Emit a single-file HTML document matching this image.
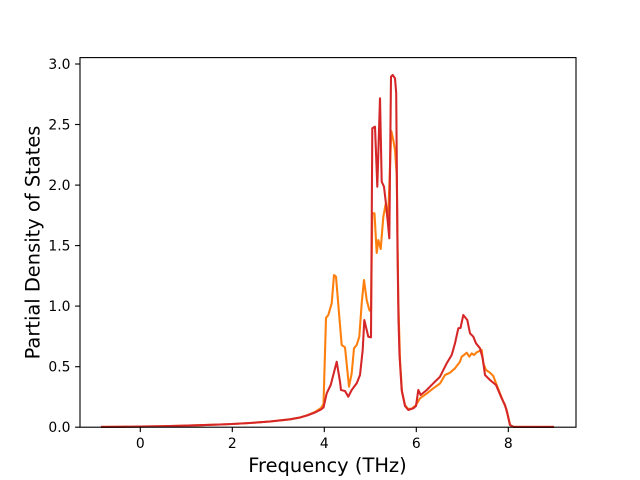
<!DOCTYPE html>
<html>
<head>
<meta charset="utf-8">
<style>
  html, body { margin: 0; padding: 0; background: #ffffff; }
  svg { display: block; }
  text { font-family: "DejaVu Sans", "Liberation Sans", sans-serif; fill: #000; }
</style>
</head>
<body>
<svg width="640" height="480" viewBox="0 0 640 480" xmlns="http://www.w3.org/2000/svg">
  <rect x="0" y="0" width="640" height="480" fill="#ffffff"/>

  <!-- series -->
  <polyline fill="none" stroke="#ff7f0e" stroke-width="2.08" stroke-linejoin="round" stroke-linecap="square"
    points="102,426.9 120,426.8 141,426.6 160,426.3 180,425.8 200,425.2 220,424.5 232,424 250,423 270,421.5 290,419.3 300,417.5 307,415.3 315,412 321,408 323.5,404 326,318 328.3,315 331.7,303.3 334,275 336,276.7 339.3,316.7 341.7,345 345,347.3 349,386.7 351.7,373.3 354,348.3 356.7,345 359.3,336.7 361.7,303.3 364,280 366.7,300 369.3,310 371,311.7 372.3,213.3 374.5,213.3 376.7,253 378.3,240 380.7,249 383.3,217 385.7,204 388,222 391.3,131 393.3,140 395,150 396.7,175 398.3,300 400,360 402,392 405,405 408,409 412,408.5 416,405 420,398.3 426.7,393.5 433.3,388.3 440,383.5 445,375 450,372.7 455,368.3 460,361.7 461.7,356.7 464,355 466.7,352.7 469.3,356.7 471.7,353.3 474,355 476.7,352.3 481.7,350 483.3,363.3 486,370 490,372.7 493.3,376 496,383.3 503.3,401.7 506.7,410 510,425 513.3,426.8 553,426.9"/>
  <polyline fill="none" stroke="#d62728" stroke-width="2.08" stroke-linejoin="round" stroke-linecap="square"
    points="102,426.9 120,426.8 141,426.6 160,426.3 180,425.8 200,425.2 220,424.5 232,424 250,423 270,421.5 290,419.3 300,417.5 307,415.5 315,412.5 321,409.5 323.5,407.5 326.7,393.3 330.7,385 333.3,375 336.7,361.7 340,381.7 341,390 345,391 348.3,396.7 351.7,390 356.7,383.3 360,375 362.7,350 364.3,320 366.7,330 368.3,336.7 371,337.3 372.3,128.3 375,126.7 377.3,186.7 380,98.3 381.7,181.7 384,186.7 386.7,210 389.3,238.3 391,76.7 392.7,75 395,78.3 396.2,93 397.5,250 398.5,320 399.5,355 401.7,390 405,406 408.3,410 413.3,408.3 416,406 418.3,390 420.7,395 426.7,390 433.3,383.3 440,376.7 446.7,363.3 451.7,355 455,343.3 458.3,328.3 460.5,328 463.3,315 467.3,320 470,333.3 473.3,336.7 476,343.3 480,348.3 482.7,358.3 485,375 490,380 496,385 501.7,398.3 505,405 507.3,413.3 510,425 513.3,426.8 553,426.9"/>

  <!-- axes frame -->
  <rect x="80" y="57.6" width="496" height="369.6" fill="none" stroke="#000" stroke-width="1.11"/>

  <!-- x ticks -->
  <g stroke="#000" stroke-width="1.11">
    <line x1="140.3" y1="427.2" x2="140.3" y2="432.1"/>
    <line x1="232.3" y1="427.2" x2="232.3" y2="432.1"/>
    <line x1="324.3" y1="427.2" x2="324.3" y2="432.1"/>
    <line x1="416.3" y1="427.2" x2="416.3" y2="432.1"/>
    <line x1="508.3" y1="427.2" x2="508.3" y2="432.1"/>
  </g>
  <g font-size="13.9" text-anchor="middle">
    <text x="140.3" y="448">0</text>
    <text x="232.3" y="448">2</text>
    <text x="324.3" y="448">4</text>
    <text x="416.3" y="448">6</text>
    <text x="508.3" y="448">8</text>
  </g>

  <!-- y ticks -->
  <g stroke="#000" stroke-width="1.11">
    <line x1="75.1" y1="427.2" x2="80" y2="427.2"/>
    <line x1="75.1" y1="366.7" x2="80" y2="366.7"/>
    <line x1="75.1" y1="306.1" x2="80" y2="306.1"/>
    <line x1="75.1" y1="245.6" x2="80" y2="245.6"/>
    <line x1="75.1" y1="185.1" x2="80" y2="185.1"/>
    <line x1="75.1" y1="124.5" x2="80" y2="124.5"/>
    <line x1="75.1" y1="64.0" x2="80" y2="64.0"/>
  </g>
  <g font-size="13.9" text-anchor="end">
    <text x="70.5" y="432.2">0.0</text>
    <text x="70.5" y="371.7">0.5</text>
    <text x="70.5" y="311.1">1.0</text>
    <text x="70.5" y="250.6">1.5</text>
    <text x="70.5" y="190.1">2.0</text>
    <text x="70.5" y="129.5">2.5</text>
    <text x="70.5" y="69.0">3.0</text>
  </g>

  <!-- axis labels -->
  <text x="327.5" y="472" font-size="19.44" text-anchor="middle">Frequency (THz)</text>
  <text transform="translate(39.5,242.5) rotate(-90)" x="0" y="0" font-size="19.44" text-anchor="middle">Partial Density of States</text>
</svg>
</body>
</html>
